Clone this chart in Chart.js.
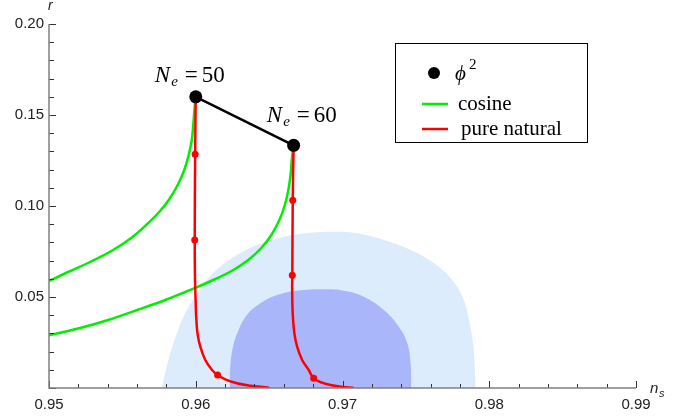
<!DOCTYPE html>
<html>
<head>
<meta charset="utf-8">
<script src="https://cdn.jsdelivr.net/npm/chart.js@4"></script>
<style>
html, body { margin: 0; padding: 0; background: #fff; }
canvas { display: block; }
</style>
</head>
<body>
<canvas id="chart" width="689" height="417"></canvas>
<script>
// phi^2 predictions for N_e = 50, 60
const efolds = [50, 60];
const phiNs = [0.96, 0.96667];
const phiR = [0.16, 0.13333];

// cosine curves
const cos50Ns = [0.96, 0.95991, 0.95983, 0.95973, 0.95952, 0.95922, 0.95877, 0.95816, 0.95751, 0.95662,
    0.9556, 0.95437, 0.9528, 0.9513, 0.94986];
const cos50R = [0.16, 0.15275, 0.14451, 0.13626, 0.12802, 0.11978, 0.11154, 0.1033, 0.0967, 0.08956,
    0.08242, 0.07582, 0.06923, 0.06374, 0.05824];
const cos60Ns = [0.96667, 0.96654, 0.96646, 0.96631, 0.96607, 0.9657, 0.96515, 0.96447, 0.96358, 0.96256,
    0.96119, 0.95962, 0.95792, 0.95601, 0.95403, 0.95212, 0.95007, 0.94966];
const cos60R = [0.13333, 0.12527, 0.11703, 0.10879, 0.10055, 0.09231, 0.08407, 0.07692, 0.07033, 0.06484,
    0.05934, 0.05385, 0.04835, 0.04286, 0.03736, 0.03297, 0.02912, 0.02841];

// pure natural curves
const nat50Ns = [0.96, 0.95996, 0.95993, 0.95995, 0.95999, 0.96003, 0.96012, 0.96031, 0.96065, 0.96111,
    0.96149, 0.96201, 0.96281, 0.96372, 0.96474, 0.965];
const nat50R = [0.16, 0.1285, 0.0813, 0.06, 0.04835, 0.03918, 0.03005, 0.02269, 0.01538, 0.00989,
    0.00714, 0.00478, 0.00258, 0.00126, 0.00038, 0.0002];
const nat60Ns = [0.96667, 0.96661, 0.96658, 0.96657, 0.96658, 0.96662, 0.96672, 0.96691, 0.96725, 0.9677,
    0.96804, 0.96861, 0.96918, 0.97, 0.97075];
const nat60R = [0.13333, 0.1032, 0.062, 0.055, 0.04835, 0.03918, 0.03005, 0.02269, 0.01538, 0.00989,
    0.00533, 0.00291, 0.00165, 0.00055, 0.0001];
const natDotNs = [0.95996, 0.95993, 0.96149, 0.96661, 0.96658, 0.96804];
const natDotR = [0.1285, 0.0813, 0.00714, 0.1032, 0.062, 0.00533];

// Planck contours (outer / inner)
const outerNs = [0.95769, 0.95792, 0.95826, 0.95872, 0.95928, 0.95997, 0.96076, 0.96167, 0.96281, 0.96418,
    0.96599, 0.96782, 0.96964, 0.971, 0.97282, 0.97464, 0.97623, 0.97737, 0.97817, 0.97862, 0.97892, 0.97908];
const outerR = [0, 0.00808, 0.01907, 0.03005, 0.04104, 0.05016, 0.05934, 0.06665, 0.07308, 0.07857,
    0.08313, 0.08533, 0.08588, 0.08497, 0.08132, 0.07582, 0.0685, 0.06027, 0.05016, 0.03736, 0.02269, 0];
const innerNs = [0.96231, 0.96235, 0.96254, 0.96292, 0.96349, 0.9644, 0.96554, 0.96691, 0.96872, 0.97009,
    0.97145, 0.97282, 0.97384, 0.97442, 0.97464, 0.97469];
const innerR = [0, 0.0117, 0.02269, 0.03187, 0.04011, 0.04652, 0.0511, 0.05346, 0.05423, 0.05346,
    0.05016, 0.04286, 0.03368, 0.02453, 0.01355, 0];

// axes
const xRange = [0.95, 0.99];
const yRange = [0, 0.2];
const legendLabels = ['cosine', 'pure natural'];

const pts = (xs, ys) => xs.map((v, i) => ({ x: v, y: ys[i] }));
const isMajor = (v, step) => Math.abs(v / step - Math.round(v / step)) < 1e-6;

const serif = '"Liberation Serif", "DejaVu Serif", serif';
const sans = '"Liberation Sans", Arial, sans-serif';

// axes, inward ticks, labels and legend
const overlay = {
    id: 'overlay',
    afterDatasetsDraw(chart) {
        const { ctx, scales: { x, y } } = chart;
        const left = x.getPixelForValue(xRange[0]);
        const right = x.getPixelForValue(xRange[1]);
        const bottom = y.getPixelForValue(yRange[0]);
        const top = y.getPixelForValue(yRange[1]);
        ctx.save();

        // ticks
        ctx.strokeStyle = '#333';
        ctx.lineWidth = 1;
        x.ticks.forEach(t => {
            const p = Math.round(x.getPixelForValue(t.value)) + 0.5;
            const len = isMajor(t.value, 0.01) ? 7 : 4;
            ctx.beginPath();
            ctx.moveTo(p, bottom);
            ctx.lineTo(p, bottom - len);
            ctx.stroke();
        });
        y.ticks.forEach(t => {
            const p = Math.round(y.getPixelForValue(t.value)) + 0.5;
            const len = isMajor(t.value, 0.05) ? 7 : 5;
            ctx.beginPath();
            ctx.moveTo(left, p);
            ctx.lineTo(left + len, p);
            ctx.stroke();
        });

        // axis lines
        ctx.strokeStyle = '#808080';
        ctx.lineWidth = 1.5;
        ctx.beginPath();
        ctx.moveTo(left, top);
        ctx.lineTo(left, bottom);
        ctx.lineTo(right, bottom);
        ctx.stroke();

        // axis names
        ctx.fillStyle = '#222';
        ctx.textBaseline = 'alphabetic';
        ctx.textAlign = 'left';
        ctx.font = 'italic 14px ' + sans;
        ctx.fillText('r', left - 1, 10);
        ctx.font = 'italic 15px ' + sans;
        ctx.fillText('n', right + 14, bottom + 5);
        ctx.font = 'italic 11px ' + sans;
        ctx.fillText('s', right + 23, bottom + 9);

        // N_e labels
        ctx.fillStyle = '#000';
        const offsets = [[-41, -15], [-27, -23]];
        efolds.forEach((n, i) => {
            const px = x.getPixelForValue(phiNs[i]) + offsets[i][0];
            const py = y.getPixelForValue(phiR[i]) + offsets[i][1];
            ctx.font = 'italic 23px ' + serif;
            ctx.fillText('N', px, py);
            ctx.font = 'italic 15px ' + serif;
            ctx.fillText('e', px + 16.5, py + 4);
            ctx.font = '23px ' + serif;
            ctx.fillText('=', px + 30, py);
            ctx.fillText(String(n), px + 47, py);
        });

        // legend
        ctx.strokeStyle = '#000';
        ctx.lineWidth = 1;
        ctx.strokeRect(395.5, 43.5, 192, 99);
        ctx.beginPath();
        ctx.arc(434, 73, 6, 0, Math.PI * 2);
        ctx.fill();
        ctx.font = 'italic 21px ' + serif;
        ctx.fillText('\u03d5', 455, 80);
        ctx.font = '15px ' + serif;
        ctx.fillText('2', 469, 69);
        const colors = ['#00ee00', '#ff0000'];
        legendLabels.forEach((lab, i) => {
            const ly = 104 + i * 25;
            ctx.strokeStyle = colors[i];
            ctx.lineWidth = 2.5;
            ctx.beginPath();
            ctx.moveTo(422, ly);
            ctx.lineTo(448, ly);
            ctx.stroke();
            ctx.font = '21px ' + serif;
            ctx.fillText(lab, 458 + i * 3, ly + 6);
        });
        ctx.restore();
    }
};

const lineStyle = (color, order) => ({
    borderColor: color,
    borderWidth: 2.5,
    pointRadius: 0,
    tension: 0.4,
    fill: false,
    order: order
});

const areaStyle = (color, order) => ({
    borderColor: 'rgba(0,0,0,0)',
    borderWidth: 0,
    backgroundColor: color,
    pointRadius: 0,
    tension: 0.4,
    fill: 'origin',
    order: order
});

new Chart(document.getElementById('chart'), {
    type: 'line',
    data: {
        datasets: [
            {
                data: pts(phiNs, phiR),
                borderColor: '#000',
                backgroundColor: '#000',
                borderWidth: 2.5,
                pointRadius: 6.5,
                pointBorderWidth: 0,
                tension: 0,
                order: 0
            },
            {
                data: pts(natDotNs, natDotR),
                showLine: false,
                backgroundColor: '#ff0000',
                pointRadius: 3.5,
                pointBorderWidth: 0,
                order: 1
            },
            { data: pts(nat50Ns, nat50R), ...lineStyle('#ff0000', 2) },
            { data: pts(nat60Ns, nat60R), ...lineStyle('#ff0000', 2) },
            { data: pts(cos50Ns, cos50R), ...lineStyle('#00ee00', 3) },
            { data: pts(cos60Ns, cos60R), ...lineStyle('#00ee00', 3) },
            { data: pts(innerNs, innerR), ...areaStyle('#a9b6fa', 4) },
            { data: pts(outerNs, outerR), ...areaStyle('#dcecfc', 5) }
        ]
    },
    options: {
        responsive: false,
        animation: false,
        devicePixelRatio: 1,
        layout: { padding: { left: 0, right: 53, top: 24, bottom: 0 } },
        plugins: {
            legend: { display: false },
            tooltip: { enabled: false }
        },
        scales: {
            x: {
                type: 'linear',
                min: xRange[0],
                max: xRange[1],
                grid: { display: false, drawTicks: false },
                border: { display: false },
                ticks: {
                    stepSize: 0.002,
                    autoSkip: false,
                    maxRotation: 0,
                    padding: 8,
                    color: '#222',
                    font: { family: sans, size: 15 },
                    callback: v => isMajor(v, 0.01) ? v.toFixed(2) : ''
                },
                afterFit: s => { s.height = 29; }
            },
            y: {
                type: 'linear',
                min: yRange[0],
                max: yRange[1],
                grid: { display: false, drawTicks: false },
                border: { display: false },
                ticks: {
                    stepSize: 0.01,
                    autoSkip: false,
                    padding: 5,
                    color: '#222',
                    font: { family: sans, size: 15 },
                    callback: v => (isMajor(v, 0.05) && v > 0) ? v.toFixed(2) : ''
                },
                afterFit: s => { s.width = 49; }
            }
        }
    },
    plugins: [overlay]
});
</script>
</body>
</html>
